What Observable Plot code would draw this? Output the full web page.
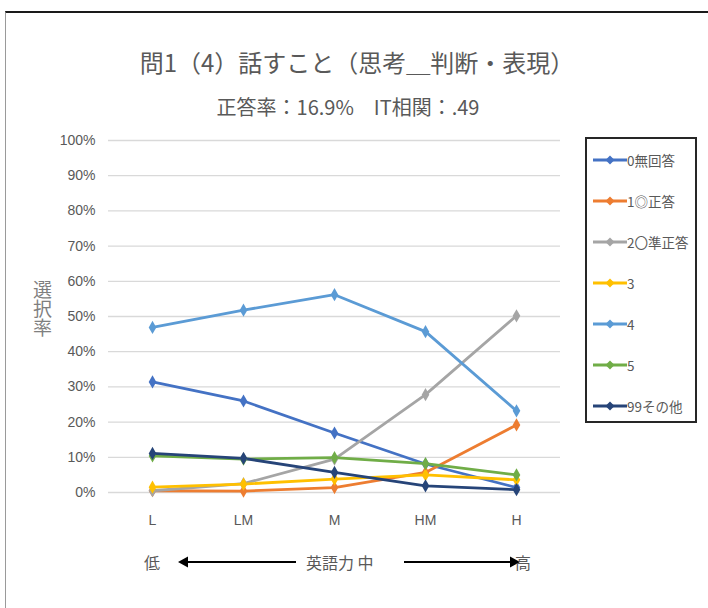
<!DOCTYPE html>
<html>
<head>
<meta charset="utf-8">
<script src="https://cdn.jsdelivr.net/npm/d3@7"></script>
<script src="https://cdn.jsdelivr.net/npm/@observablehq/plot@0.6"></script>
<style>
  html, body { margin: 0; padding: 0; background: #fff; }
  body { width: 708px; height: 608px; position: relative; overflow: hidden;
         font-family: "Noto Sans CJK JP", "Noto Sans", sans-serif; color: #595959; }
  #frame { position: absolute; left: 5px; top: 11px; right: -5px; bottom: -5px;
           border-top: 2px solid #1a1a1a; border-left: 1px solid #9a9a9a; }
  .title { position: absolute; left: 0; width: 708px; text-align: center; white-space: nowrap; }
  #t1 { top: 44px; font-size: 24px; left: 3px; }
  #t2 { top: 92px; font-size: 20px; left: -6px; }
  #chart { position: absolute; left: 0; top: 0; }
  #ylab { position: absolute; left: 33px; top: 280px; writing-mode: vertical-rl; font-size: 19px; line-height: 1; color: #7f7f7f; }
  #legend { position: absolute; left: 585px; top: 137px; width: 112px; height: 286px;
            border: 2px solid #262626; box-sizing: border-box; padding-top: 0px; }
  .item { display: flex; align-items: center; height: 41px; font-size: 13.5px; }
  .item svg { margin-left: 6px; margin-right: 0px; }
  #bottom { position: absolute; top: 550px; left: 0; width: 708px; height: 24px; font-size: 16px; }
  #bottom span { position: absolute; top: 0; }
</style>
</head>
<body>
<div id="frame"></div>
<div id="t1" class="title">問1（4）話すこと（思考＿判断・表現）</div>
<div id="t2" class="title">正答率：16.9%　IT相関：.49</div>
<div id="chart"></div>
<div id="ylab">選択率</div>
<div id="legend"></div>
<div id="bottom">
  <span style="left:144px">低</span>
  <svg style="position:absolute;left:178px;top:4px" width="120" height="16">
    <line x1="8" y1="8" x2="118" y2="8" stroke="#000" stroke-width="2.2"/>
    <path d="M0,8 L10,2.5 L10,13.5 Z" fill="#000"/>
  </svg>
  <span style="left:306px">英語力 中</span>
  <svg style="position:absolute;left:404px;top:4px" width="116" height="16">
    <line x1="0" y1="8" x2="106" y2="8" stroke="#000" stroke-width="2.2"/>
    <path d="M116,8 L106,2.5 L106,13.5 Z" fill="#000"/>
  </svg>
  <span style="left:515px">高</span>
</div>
<script>
const levels = ["L", "LM", "M", "HM", "H"];
const seriesNames = ["0無回答", "1◎正答", "2〇準正答", "3", "4", "5", "99その他"];
const seriesColors = ["#4472C4", "#ED7D31", "#A5A5A5", "#FFC000", "#5B9BD5", "#70AD47", "#264478"];
const yTicks = [0, 0.1, 0.2, 0.3, 0.4, 0.5, 0.6, 0.7, 0.8, 0.9, 1.0];

const v0 = [0.314, 0.260, 0.169, 0.081, 0.014];
const v1 = [0.005, 0.004, 0.014, 0.057, 0.192];
const v2 = [0.005, 0.025, 0.095, 0.278, 0.502];
const v3 = [0.015, 0.024, 0.038, 0.050, 0.036];
const v4 = [0.469, 0.518, 0.562, 0.457, 0.232];
const v5 = [0.104, 0.095, 0.099, 0.082, 0.050];
const v99 = [0.111, 0.097, 0.057, 0.019, 0.008];
const values = [v0, v1, v2, v3, v4, v5, v99];

const data = [];
seriesNames.forEach((s, i) => levels.forEach((lv, j) => data.push({series: s, level: lv, value: values[i][j]})));

const fmt = d => Math.round(d * 100) + "%";

const chart = Plot.plot({
  width: 708, height: 608,
  marginLeft: 108, marginRight: 148, marginTop: 140, marginBottom: 116,
  style: {fontFamily: "'Liberation Sans Narrow', 'Liberation Sans', sans-serif", fontSize: "13px", color: "#595959", background: "transparent"},
  x: {domain: levels, type: "point", padding: 0.48, label: null},
  y: {domain: [0, 1], label: null},
  color: {domain: seriesNames, range: seriesColors},
  marks: [
    Plot.gridY(yTicks, {stroke: "#d9d9d9", strokeOpacity: 1, strokeWidth: 1.3}),
    Plot.axisY(yTicks, {tickSize: 0, tickPadding: 13, fontSize: 14, tickFormat: fmt, label: null}),
    Plot.axisX({tickSize: 0, tickPadding: 23, fontSize: 14, label: null}),
    Plot.line(data, {x: "level", y: "value", z: "series", stroke: "series", strokeWidth: 2.8}),
    Plot.dot(data, {x: "level", y: "value", fill: "series", symbol: "diamond", r: 4})
  ]
});
document.getElementById("chart").appendChild(chart);

const legend = document.getElementById("legend");
seriesNames.forEach((s, i) => {
  const div = document.createElement("div");
  div.className = "item";
  div.innerHTML = `<svg width="34" height="12"><line x1="0" y1="6" x2="34" y2="6" stroke="${seriesColors[i]}" stroke-width="2.8"/><path d="M17,1.5 L21.5,6 L17,10.5 L12.5,6 Z" fill="${seriesColors[i]}"/></svg><span>${s}</span>`;
  legend.appendChild(div);
});
</script>
</body>
</html>
